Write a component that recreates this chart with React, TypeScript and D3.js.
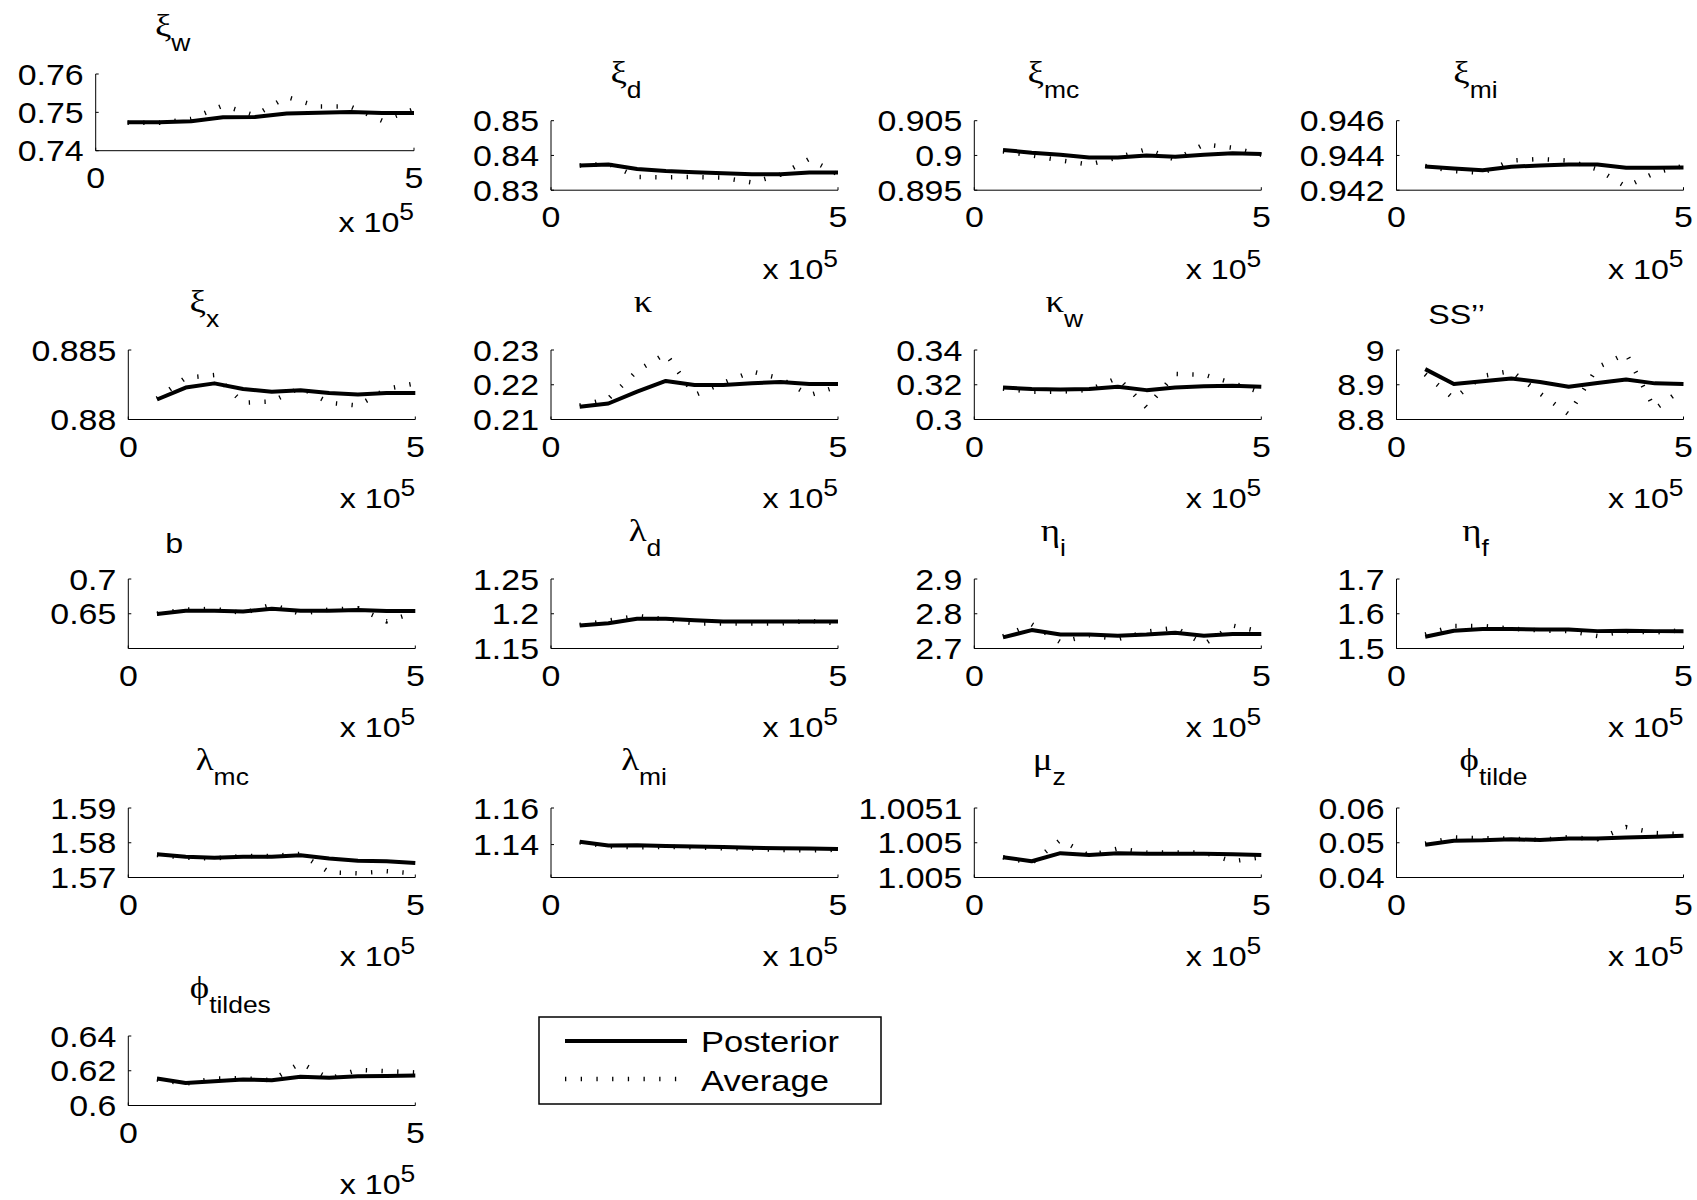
import React from "react";
import { scaleLinear, line, format } from "d3";

// iterations (x axis is shown in units of 10^5)
const iterations = [50000, 100000, 150000, 200000, 250000, 300000, 350000, 400000, 450000, 500000];
const xTicks = [0, 500000];

const titles = [
  ["ξ", "w"], ["ξ", "d"], ["ξ", "mc"], ["ξ", "mi"],
  ["ξ", "x"], ["κ", ""], ["κ", "w"], ["SS’’", ""],
  ["b", ""], ["λ", "d"], ["η", "i"], ["η", "f"],
  ["λ", "mc"], ["λ", "mi"], ["μ", "z"], ["ϕ", "tilde"],
  ["ϕ", "tildes"],
];

const yTicks = [
  [0.74, 0.75, 0.76], [0.83, 0.84, 0.85], [0.895, 0.9, 0.905], [0.942, 0.944, 0.946],
  [0.88, 0.885], [0.21, 0.22, 0.23], [0.3, 0.32, 0.34], [8.8, 8.9, 9],
  [0.65, 0.7], [1.15, 1.2, 1.25], [2.7, 2.8, 2.9], [1.5, 1.6, 1.7],
  [1.57, 1.58, 1.59], [1.14, 1.16], [1.00496, 1.00502, 1.00508], [0.04, 0.05, 0.06],
  [0.6, 0.62, 0.64],
];

const yDomains = [
  [0.74, 0.76], [0.83, 0.85], [0.895, 0.905], [0.942, 0.946],
  [0.88, 0.885], [0.21, 0.23], [0.3, 0.34], [8.8, 9],
  [0.6, 0.7], [1.15, 1.25], [2.7, 2.9], [1.5, 1.7],
  [1.57, 1.59], [1.122, 1.16], [1.00496, 1.00508], [0.04, 0.06],
  [0.6, 0.64],
];

const posteriorXiW = [0.7474, 0.7474, 0.7477, 0.7487, 0.7488, 0.7497, 0.7499, 0.7501, 0.7498, 0.7498];
const averageXiW = [0.7473, 0.7473, 0.7483, 0.7518, 0.7492, 0.754, 0.7515, 0.7515, 0.7478, 0.7508];
const posteriorXiD = [0.8371, 0.8374, 0.8361, 0.8355, 0.8352, 0.8349, 0.8346, 0.8346, 0.8351, 0.8351];
const averageXiD = [0.8371, 0.8376, 0.8338, 0.8337, 0.8338, 0.8336, 0.8322, 0.8345, 0.839, 0.8345];
const posteriorXiMc = [0.9008, 0.9004, 0.9001, 0.8997, 0.8997, 0.9, 0.8998, 0.9001, 0.9003, 0.9002];
const averageXiMc = [0.9006, 0.9, 0.8993, 0.8987, 0.8997, 0.9009, 0.8994, 0.9016, 0.9011, 0.9001];
const posteriorXiMi = [0.94337, 0.94325, 0.94315, 0.94335, 0.94342, 0.94348, 0.94348, 0.94329, 0.94329, 0.9433];
const averageXiMi = [0.9434, 0.9431, 0.943, 0.9437, 0.9438, 0.9437, 0.9432, 0.9422, 0.943, 0.9434];
const posteriorXiX = [0.88144, 0.8823, 0.8826, 0.8822, 0.882, 0.8821, 0.8819, 0.8818, 0.8819, 0.8819];
const averageXiX = [0.8815, 0.883, 0.8832, 0.8812, 0.8813, 0.8823, 0.8812, 0.881, 0.8822, 0.8826];
const posteriorKappa = [0.2137, 0.2146, 0.218, 0.2211, 0.2199, 0.2199, 0.2204, 0.2208, 0.2202, 0.2202];
const averageKappa = [0.214, 0.216, 0.224, 0.229, 0.217, 0.2205, 0.2238, 0.2218, 0.217, 0.2195];
const posteriorKappaW = [0.3184, 0.3175, 0.3173, 0.3175, 0.3188, 0.3169, 0.3184, 0.3192, 0.3194, 0.3188];
const averageKappaW = [0.3178, 0.316, 0.316, 0.317, 0.324, 0.307, 0.3262, 0.3258, 0.321, 0.3155];
const posteriorSS = [8.945, 8.902, 8.91, 8.918, 8.908, 8.894, 8.905, 8.915, 8.904, 8.902];
const averageSS = [8.93, 8.86, 8.925, 8.94, 8.875, 8.815, 8.95, 8.99, 8.83, 8.89];
const posteriorB = [0.6495, 0.6543, 0.6543, 0.6534, 0.6572, 0.6543, 0.6543, 0.6553, 0.6539, 0.6539];
const averageB = [0.65, 0.656, 0.657, 0.651, 0.663, 0.65, 0.656, 0.658, 0.639, 0.652];
const posteriorLambdaD = [1.183, 1.1864, 1.1927, 1.1927, 1.1905, 1.1888, 1.1888, 1.1888, 1.1888, 1.1888];
const averageLambdaD = [1.184, 1.19, 1.197, 1.192, 1.186, 1.186, 1.186, 1.186, 1.19, 1.186];
const posteriorEtaI = [2.732, 2.753, 2.74, 2.74, 2.737, 2.74, 2.745, 2.737, 2.742, 2.742];
const averageEtaI = [2.735, 2.77, 2.718, 2.738, 2.727, 2.748, 2.76, 2.712, 2.766, 2.748];
const posteriorEtaF = [1.534, 1.551, 1.556, 1.556, 1.555, 1.555, 1.55, 1.551, 1.55, 1.55];
const averageEtaF = [1.54, 1.565, 1.565, 1.557, 1.552, 1.55, 1.536, 1.55, 1.546, 1.553];
const posteriorLambdaMc = [1.5767, 1.576, 1.5757, 1.576, 1.576, 1.5764, 1.5755, 1.5748, 1.5747, 1.5742];
const averageLambdaMc = [1.5765, 1.5757, 1.5755, 1.5762, 1.5762, 1.5768, 1.5715, 1.5712, 1.5718, 1.5712];
const posteriorLambdaMi = [1.1415, 1.1395, 1.1397, 1.1392, 1.139, 1.1387, 1.1383, 1.138, 1.1378, 1.1376];
const averageLambdaMi = [1.1412, 1.139, 1.1385, 1.1388, 1.1385, 1.138, 1.1378, 1.137, 1.1368, 1.1372];
const posteriorMuZ = [1.004995, 1.004988, 1.005002, 1.004999, 1.005002, 1.005001, 1.005001, 1.005001, 1.005, 1.004999];
const averageMuZ = [1.004995, 1.004985, 1.005025, 1.004998, 1.00501, 1.005003, 1.005003, 1.005003, 1.004988, 1.004995];
const posteriorPhiTilde = [0.0494, 0.0506, 0.0507, 0.051, 0.0508, 0.0512, 0.0512, 0.0515, 0.0517, 0.052];
const averagePhiTilde = [0.0497, 0.0515, 0.0513, 0.0512, 0.0508, 0.0516, 0.051, 0.0545, 0.0528, 0.0525];
const posteriorPhiTildes = [0.6155, 0.613, 0.614, 0.615, 0.6145, 0.6165, 0.616, 0.6168, 0.617, 0.6172];
const averagePhiTildes = [0.615, 0.6125, 0.6155, 0.6158, 0.6145, 0.6245, 0.6155, 0.6205, 0.6198, 0.619];

const posteriorSeries = [
  posteriorXiW, posteriorXiD, posteriorXiMc, posteriorXiMi,
  posteriorXiX, posteriorKappa, posteriorKappaW, posteriorSS,
  posteriorB, posteriorLambdaD, posteriorEtaI, posteriorEtaF,
  posteriorLambdaMc, posteriorLambdaMi, posteriorMuZ, posteriorPhiTilde,
  posteriorPhiTildes,
];
const averageSeries = [
  averageXiW, averageXiD, averageXiMc, averageXiMi,
  averageXiX, averageKappa, averageKappaW, averageSS,
  averageB, averageLambdaD, averageEtaI, averageEtaF,
  averageLambdaMc, averageLambdaMi, averageMuZ, averagePhiTilde,
  averagePhiTildes,
];

const legendLabels = ["Posterior", "Average"];

// layout (pixels)
const COLS = [128.3, 551, 974.3, 1396.5];
const ROWS = [120.7, 350, 579, 808, 1036];
const PW = 287;
const PH = 69.5;
// title centre, measured from the left of each axes
const titleDx = [77, 75, 79, 79, 76, 92, 90, 60, 46, 94, 79, 79, 94, 93, 75, 97, 102];

const SANS = "'Liberation Sans', Arial, sans-serif";
const SERIF = "'Liberation Serif', 'DejaVu Serif', serif";
const STRETCH = 1.15; // the picture's text is a little wider than Helvetica
const tickFmt = format(".5~g");

// text, stretched sideways about its anchor point
function T({ x, y, anchor = "start", size, family = SANS, children }) {
  return (
    <text transform={`translate(${x},${y}) scale(${STRETCH},1)`} textAnchor={anchor}
      fontFamily={family} fontSize={size} fill="#000">
      {children}
    </text>
  );
}

function Panel({ i }) {
  // the first axes sits higher and is a bit larger than the rest
  const first = i === 0;
  const left = first ? 95.7 : COLS[i % 4];
  const top = first ? 74 : ROWS[Math.floor(i / 4)];
  const w = first ? 318.3 : PW;
  const h = first ? 76.7 : PH;
  const x = scaleLinear().domain([0, 500000]).range([left, left + w]);
  const y = scaleLinear().domain(yDomains[i]).range([top + h, top]);
  const path = line()
    .x((d, k) => x(iterations[k]))
    .y((d) => y(d));
  const bottom = top + h;
  const [main, sub] = titles[i];
  const tx = left + titleDx[i];
  const hasSub = sub !== "";
  const greek = main !== "b" && main !== "SS’’";
  const mainBase = greek || hasSub ? top - 38 : top - 26;
  return (
    <g>
      <T x={tx} y={mainBase} anchor="middle" size={greek ? 32 : 28} family={greek ? SERIF : SANS}>
        {main}
        {hasSub && (
          <tspan fontFamily={SANS} fontSize={23} dy={15}>{sub}</tspan>
        )}
      </T>
      <path d={path(averageSeries[i])} fill="none" stroke="#000" strokeWidth={4.5}
        strokeDasharray="1.3,14.4" />
      <path d={path(posteriorSeries[i])} fill="none" stroke="#000" strokeWidth={4}
        strokeLinejoin="round" />
      <line x1={left} x2={left} y1={top} y2={bottom} stroke="#000" strokeWidth={1} />
      <line x1={left} x2={left + w} y1={bottom} y2={bottom} stroke="#000" strokeWidth={1} />
      {yTicks[i].map((t) => (
        <g key={t}>
          <line x1={left} x2={left + 3} y1={y(t)} y2={y(t)} stroke="#000" />
          <T x={left - 12} y={y(t) + 10.6} anchor="end" size={29.5}>{tickFmt(t)}</T>
        </g>
      ))}
      {xTicks.map((t) => (
        <g key={t}>
          <line x1={x(t)} x2={x(t)} y1={bottom} y2={bottom - 3} stroke="#000" />
          <T x={x(t)} y={bottom + 37} anchor="middle" size={29.5}>{t / 100000}</T>
        </g>
      ))}
      <T x={left + w} y={bottom + (first ? 81 : 88.5)} anchor="end" size={28}>
        x 10
        <tspan fontSize={23} dy={-12}>5</tspan>
      </T>
    </g>
  );
}

export default function App() {
  return (
    <div style={{ position: "absolute", left: 0, top: 0 }}>
      <svg width={1697} height={1200} style={{ display: "block", background: "#fff" }}>
        <rect width={1697} height={1200} fill="#fff" />
        {titles.map((t, i) => (
          <Panel key={i} i={i} />
        ))}
        <g>
          <rect x={539} y={1017} width={342} height={87} fill="#fff" stroke="#000" strokeWidth={1.5} />
          <line x1={565} x2={687} y1={1041} y2={1041} stroke="#000" strokeWidth={4} />
          <line x1={565} x2={687} y1={1079} y2={1079} stroke="#000" strokeWidth={4.5}
            strokeDasharray="1.3,14.4" />
          <T x={701} y={1052} size={30}>{legendLabels[0]}</T>
          <T x={701} y={1091} size={30}>{legendLabels[1]}</T>
        </g>
      </svg>
    </div>
  );
}
